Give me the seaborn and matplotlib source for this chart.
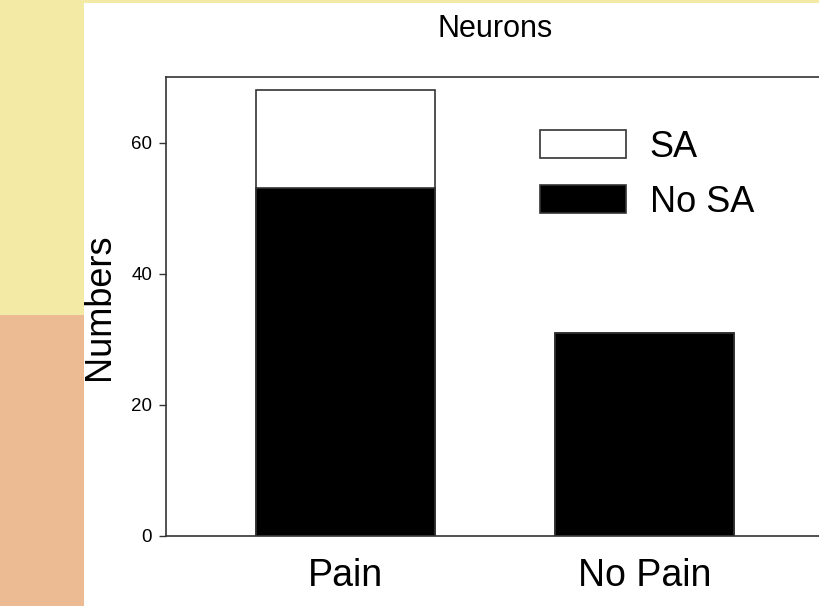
import matplotlib
matplotlib.use("Agg")
import matplotlib.pyplot as plt
from matplotlib.patches import Patch, Rectangle
import pandas as pd
import seaborn as sns

# values
groups = ["Pain", "No Pain"]
no_sa = [53, 31]
sa = [15, 0]
legend_labels = ["SA", "No SA"]

df = pd.DataFrame({"group": groups, "no_sa": no_sa, "sa": sa})
df["total"] = df["no_sa"] + df["sa"]

sns.set_style("white")
plt.rcParams["font.family"] = ["Liberation Sans", "DejaVu Sans"]
plt.rcParams["text.color"] = "black"
plt.rcParams["axes.labelcolor"] = "black"
plt.rcParams["xtick.color"] = "black"
plt.rcParams["ytick.color"] = "black"

fig = plt.figure(figsize=(8.2, 6.06), dpi=100)
fig.patch.set_facecolor("#f3eba5")

# white slide panel and the tissue-coloured lower left strip
fig.add_artist(Rectangle((0, 0), 84 / 820, 0.48, transform=fig.transFigure,
                         facecolor="#edbb93", edgecolor="none", zorder=-3))
fig.add_artist(Rectangle((84 / 820, 0), 1 - 84 / 820, 603 / 606,
                         transform=fig.transFigure, facecolor="white",
                         edgecolor="none", zorder=-2))

ax = fig.add_axes([166 / 820, 70 / 606, 658 / 820, 459 / 606])
ax.set_facecolor("white")

sns.barplot(data=df, x="group", y="total", color="white", saturation=1,
            edgecolor="#333333", linewidth=1.2, width=0.6, ax=ax)
sns.barplot(data=df, x="group", y="no_sa", color="black", saturation=1,
            edgecolor="#333333", linewidth=1.2, width=0.6, ax=ax)

ax.set_xlim(-0.6, 1.6)
ax.set_ylim(0, 70)
ax.set_yticks([0, 20, 40, 60])
ax.set_title("Neurons", fontsize=22, pad=29)
ax.set_xlabel("")
ax.set_ylabel("Numbers", fontsize=26, labelpad=10)
ax.tick_params(axis="y", direction="out", length=5, width=1, labelsize=13.5,
               left=True, color="#333333", pad=5)
ax.tick_params(axis="x", length=0, labelsize=27, pad=16)

for side in ["left", "bottom", "top", "right"]:
    ax.spines[side].set_color("#333333")
    ax.spines[side].set_linewidth(1.2)

handles = [Patch(facecolor="white", edgecolor="#333333", linewidth=1.2),
           Patch(facecolor="black", edgecolor="#333333", linewidth=1.2)]
ax.legend(handles, legend_labels, loc="upper left", bbox_to_anchor=(0.568, 0.885),
          frameon=False, fontsize=26, handlelength=2.4, handleheight=0.8,
          handletextpad=0.65, labelspacing=0.55, borderpad=0, borderaxespad=0)

fig.savefig("out.png", dpi=100, facecolor=fig.get_facecolor())
